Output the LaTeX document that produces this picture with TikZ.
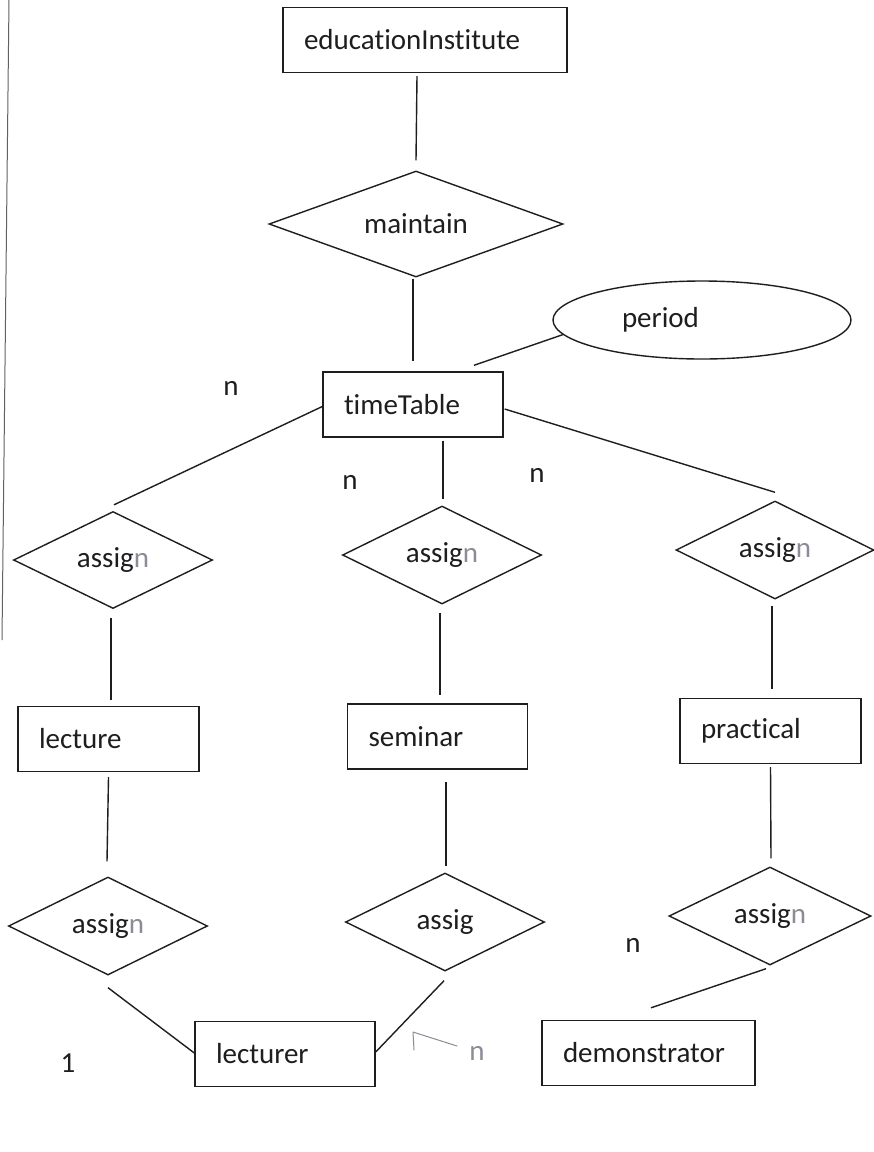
\documentclass[tikz,border=0pt]{standalone}
\usepackage{fontspec}
\setmainfont{Carlito}[Ligatures=NoCommon]
\usetikzlibrary{shapes.geometric}
\definecolor{ink}{HTML}{1E1E1E}
\definecolor{pen}{HTML}{8C8C98}
\begin{document}
\begin{tikzpicture}[x=1pt,y=-1pt,
  lbl/.style={font=\fontsize{29}{34}\selectfont, text=ink, inner sep=0pt},
  ent/.style={draw=ink, line width=1.4pt, align=left, inner xsep=21pt, inner ysep=0pt,
              minimum height=65pt, font=\fontsize{29}{34}\selectfont, text=ink},
  rel/.style={draw=ink, line width=1.4pt, diamond, aspect=2, inner sep=0pt,
              font=\fontsize{29}{34}\selectfont, text=ink},
  attr/.style={draw=ink, line width=1.4pt, ellipse, inner sep=0pt, align=left,
              font=\fontsize{29}{34}\selectfont, text=ink},
  conn/.style={draw=ink, line width=1.4pt},
  hand/.style={draw=pen, line width=1pt, line cap=round, line join=round}
]
\useasboundingbox (0,0) rectangle (874,1152);
\fill[white] (0,0) rectangle (874,1152);
% page edge
\draw[ink!70, line width=1pt] (9,0) -- (2,640);

% entities
\node[ent, text width=242pt] (edu) at (425,40) {educationInstitute};
\node[ent, text width=138pt] (tt) at (413,404.5) {timeTable};
\node[ent, text width=139pt] (lecture) at (108.5,739) {lecture};
\node[ent, text width=138pt] (seminar) at (437.5,736.5) {seminar};
\node[ent, text width=139pt] (practical) at (770.5,731) {practical};
\node[ent, text width=138pt] (lecturer) at (285,1054) {lecturer};
\node[ent, text width=171pt] (demo) at (648.5,1053) {demonstrator};

% attribute
\node[attr, minimum width=298pt, minimum height=78pt, text width=160pt] (period) at (702,320) {period};

% relationships
\node[rel, minimum width=294pt, minimum height=106pt] (maintain) at (416,224) {maintain};
\node[rel, minimum width=199pt, minimum height=97pt] (d1) at (113,560) {assig{\color{pen}n}};
\node[rel, minimum width=199pt, minimum height=98pt] (d2) at (442,555) {assig{\color{pen}n}};
\node[rel, minimum width=198pt, minimum height=98pt] (d3) at (775,550) {assig{\color{pen}n}};
\node[rel, minimum width=199pt, minimum height=98pt] (e1) at (108,926) {assig{\color{pen}n}};
\node[rel, minimum width=199pt, minimum height=98pt] (e2) at (445,922) {assig};
\node[rel, minimum width=202pt, minimum height=98pt] (e3) at (770,916) {assig{\color{pen}n}};

% connectors
\draw[conn] ([xshift=-8pt,yshift=-3pt]edu.south) -- ([yshift=10pt]maintain.north);
\draw[conn] ([xshift=-3pt,yshift=-1pt]maintain.south) -- ([yshift=10pt]tt.north);
\draw[conn] (period.186) -- ([xshift=61pt,yshift=6pt]tt.north);
\draw[conn] ([yshift=-2pt]tt.west) -- ([xshift=1pt,yshift=6pt]d1.north);
\draw[conn] ([xshift=30pt,yshift=-3pt]tt.south) -- ([xshift=1pt,yshift=6pt]d2.north);
\draw[conn] ([xshift=1pt,yshift=-4.5pt]tt.east) -- ([yshift=8pt]d3.north);
\draw[conn] ([xshift=-2pt,yshift=-9pt]d1.south) -- ([xshift=2.5pt,yshift=6pt]lecture.north);
\draw[conn] ([xshift=-2pt,yshift=-8pt]d2.south) -- ([xshift=2.5pt,yshift=8pt]seminar.north);
\draw[conn] ([xshift=-3pt,yshift=-6pt]d3.south) -- ([xshift=1.5pt,yshift=9pt]practical.north);
\draw[conn] ([yshift=-5pt]lecture.south) -- ([xshift=-1pt,yshift=15pt]e1.north);
\draw[conn] ([xshift=8.5pt,yshift=-12pt]seminar.south) -- ([xshift=1pt,yshift=6pt]e2.north);
\draw[conn] ([yshift=-3pt]practical.south) -- ([xshift=1pt,yshift=8pt]e3.north);
\draw[conn] ([yshift=-12pt]e1.south) -- ([yshift=1pt]lecturer.west);
\draw[conn] ([xshift=-1pt,yshift=-9pt]e2.south) -- ([yshift=2pt]lecturer.east);
\draw[conn] ([xshift=-4pt,yshift=-3pt]e3.south) -- ([xshift=2.5pt,yshift=12pt]demo.north);

% cardinalities
\node[lbl] (c1) at (231,388) {n};
\node[lbl] (c2) at (350,482) {n};
\node[lbl] (c3) at (537,475) {n};
\node[lbl] (c4) at (633,945) {n};
\node[lbl] (c5) at (68,1063) {1};
\node[lbl, text=pen] (c6) at (477,1053) {n};
% handwritten arrow
\draw[hand] (457,1046) -- (413,1032) -- (414,1050);
\end{tikzpicture}
\end{document}
